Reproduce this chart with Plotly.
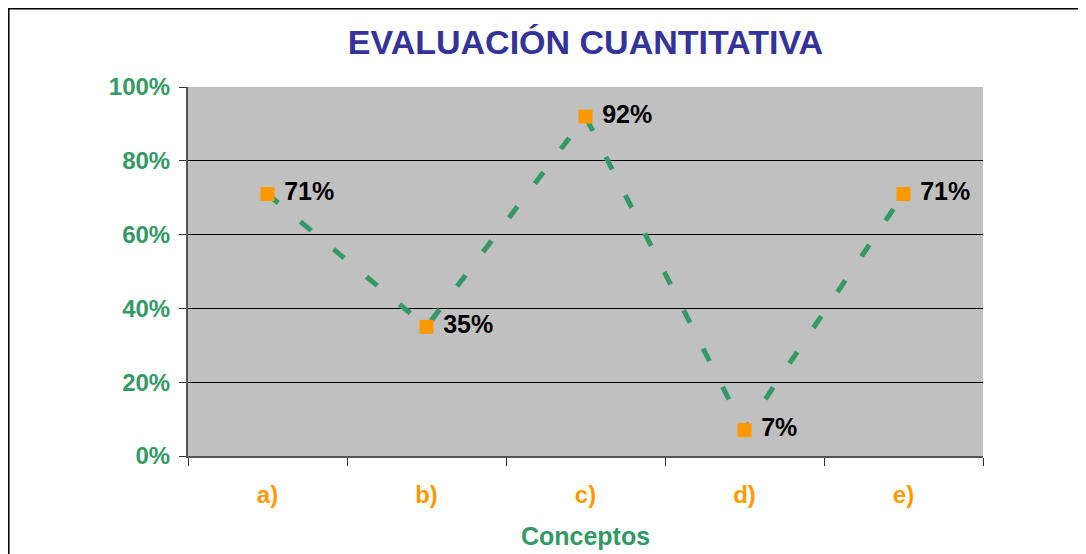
import plotly.graph_objects as go

conceptos = ["a)", "b)", "c)", "d)", "e)"]
valores = [0.71, 0.35, 0.92, 0.07, 0.71]
etiquetas = ["71%", "35%", "92%", "7%", "71%"]
y_ticks = [0, 0.2, 0.4, 0.6, 0.8, 1.0]
y_labels = ["0%", "20%", "40%", "60%", "80%", "100%"]

GREEN = "#339966"
ORANGE = "#FF9900"
FONT = "Liberation Sans, Arial, sans-serif"

# page body adds an 8px offset, so the figure is 8px smaller
W, H = 1078, 546
L, R, T, B = 180, 103, 79, 98

fig = go.Figure()

fig.add_trace(
    go.Scatter(
        x=conceptos,
        y=valores,
        mode="lines+markers+text",
        line=dict(color=GREEN, width=5, dash="14px,29px"),
        marker=dict(symbol="square", size=14, color=ORANGE),
        text=etiquetas,
        texttemplate=" %{text}",
        textposition="middle right",
        textfont=dict(family=FONT, size=25, color="black", weight="bold"),
        showlegend=False,
        cliponaxis=False,
    )
)

pw = W - L - R
ph = H - T - B

fig.update_layout(
    width=W,
    height=H,
    paper_bgcolor="white",
    plot_bgcolor="#C0C0C0",
    margin=dict(l=L, r=R, t=T, b=B),
    title=dict(
        text="<b>EVALUACIÓN CUANTITATIVA</b>",
        x=(L + pw / 2) / W,
        xanchor="center",
        y=1 - 34 / H,
        yanchor="middle",
        font=dict(family=FONT, size=34, color="#333399"),
    ),
    shapes=[
        dict(
            type="rect",
            xref="paper",
            yref="paper",
            x0=(0.8 - L) / pw,
            x1=(W + 20 - L) / pw,
            y0=-(B + 20) / ph,
            y1=(ph + T - 0.8) / ph,
            line=dict(color="black", width=1.5),
            layer="below",
        )
    ],
)

fig.update_xaxes(
    range=[-0.5, 4.5],
    automargin=False,
    tickson="boundaries",
    ticks="outside",
    ticklen=8,
    tickcolor="#333333",
    showline=True,
    linecolor="#555555",
    linewidth=2,
    showgrid=False,
    tickfont=dict(family=FONT, size=24, color=ORANGE, weight="bold"),
    ticklabelstandoff=16,
    title=dict(
        text="<b>Conceptos</b>",
        font=dict(family=FONT, size=25, color=GREEN),
        standoff=21,
    ),
)

fig.update_yaxes(
    range=[0, 1],
    automargin=False,
    tickvals=y_ticks,
    ticktext=y_labels,
    ticks="outside",
    ticklen=7,
    tickcolor="#333333",
    showline=True,
    linecolor="#555555",
    linewidth=2,
    showgrid=True,
    gridcolor="black",
    gridwidth=1,
    zeroline=False,
    ticklabelstandoff=4,
    tickfont=dict(family=FONT, size=24, color=GREEN, weight="bold"),
)

fig.write_html("out.html")
